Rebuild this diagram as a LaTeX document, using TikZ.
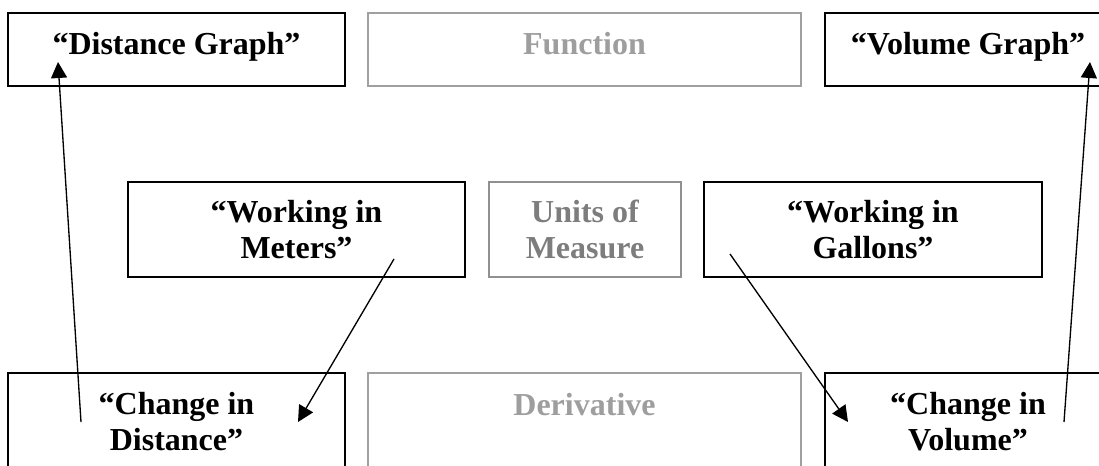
\documentclass[tikz,border=0pt]{standalone}
\usepackage{fontspec}
\setmainfont{Liberation Serif}
\usetikzlibrary{arrows.meta}

\definecolor{greyline}{RGB}{160,160,160}
\definecolor{greytext}{RGB}{158,158,158}
\definecolor{unitgrey}{RGB}{125,125,125}

\tikzset{
    box/.style={draw=black, line width=1.3pt, inner sep=0pt, align=center,
        font=\bfseries\fontsize{24}{26.5}\selectfont},
    greybox/.style={box, draw=greyline, text=greytext},
    toprow/.style={minimum height=54.75pt, text height=17pt, text depth=8.75pt},
    midrow/.style={minimum height=71.25pt},
    lowrow/.style={minimum height=72.75pt},
    link/.style={-{Triangle[length=12pt,width=12pt]}, line width=1pt},
}

\begin{document}
\begin{tikzpicture}[x=0.75pt,y=-0.75pt]
    \useasboundingbox (0,0) rectangle (1099,466);
    \clip (0,0) rectangle (1099,466);

    % top row
    \node [box, toprow, minimum width=252.75pt]     (dgraph) at (176.5,49.5) {“Distance Graph”};
    \node [greybox, toprow, minimum width=324.75pt] (func)   at (584.5,49.5) {Function};
    \node [box, toprow, minimum width=214.5pt]      (vgraph) at (968,49.5)   {“Volume Graph”};

    % middle row
    \node [box, midrow, minimum width=252.75pt] (meters)  at (296.5,229.5) {“Working in\\ Meters”};
    \node [greybox, midrow, text=unitgrey, draw=unitgrey!85, minimum width=144pt]
                                                (units)   at (585,229.5)   {Units of\\ Measure};
    \node [box, midrow, minimum width=253.5pt]  (gallons) at (873,229.5)   {“Working in\\ Gallons”};

    % bottom row
    \node [box, lowrow, minimum width=252.75pt]     (ddist) at (176.5,421.5) {“Change in\\ Distance”};
    \node [greybox, lowrow, text height=17pt, text depth=26.75pt, minimum width=324.75pt]
                                                    (deriv) at (584.5,421.5) {Derivative};
    \node [box, lowrow, minimum width=214.5pt]      (dvol)  at (968,421.5)   {“Change in\\ Volume”};

    % arrow ends
    \coordinate (ddist-out)  at (81,422);
    \coordinate (dgraph-in)  at (58,62);
    \coordinate (meters-out) at (394,259);
    \coordinate (ddist-in)   at (298,422);
    \coordinate (gallons-out) at (730,254);
    \coordinate (dvol-in)    at (848,422);
    \coordinate (dvol-out)   at (1064,422);
    \coordinate (vgraph-in)  at (1090,62);

    \draw [link] (ddist-out)   -- (dgraph-in);
    \draw [link] (meters-out)  -- (ddist-in);
    \draw [link] (gallons-out) -- (dvol-in);
    \draw [link] (dvol-out)    -- (vgraph-in);
\end{tikzpicture}
\end{document}
